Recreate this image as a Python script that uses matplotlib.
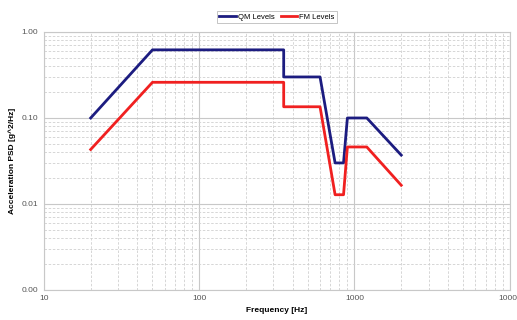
import matplotlib
matplotlib.use("Agg")
import matplotlib.pyplot as plt
from matplotlib.ticker import LogLocator, FuncFormatter, NullFormatter

plt.rcParams["font.family"] = ["Liberation Sans", "DejaVu Sans"]

# PSD breakpoints
freq = [20, 50, 350, 350, 600, 750, 850, 900, 1200, 2000]
qm_levels = [0.10, 0.62, 0.62, 0.30, 0.30, 0.030, 0.030, 0.10, 0.10, 0.037]
fm_levels = [0.043, 0.26, 0.26, 0.135, 0.135, 0.0128, 0.0128, 0.046, 0.046, 0.0165]

fig = plt.figure(figsize=(5.17, 3.2), dpi=100)
ax = fig.add_axes([0.085, 0.094, 0.901, 0.806])

ax.plot(freq, qm_levels, color="#1c1c80", lw=2.0, label="QM Levels")
ax.plot(freq, fm_levels, color="#f02020", lw=2.0, label="FM Levels")

ax.set_xscale("log")
ax.set_yscale("log")
ax.set_xlim(10, 10000)
ax.set_ylim(0.001, 1)

ax.xaxis.set_major_locator(LogLocator(base=10))
ax.xaxis.set_minor_locator(LogLocator(base=10, subs=range(2, 10)))
ax.yaxis.set_major_locator(LogLocator(base=10))
ax.yaxis.set_minor_locator(LogLocator(base=10, subs=range(2, 10)))
ax.xaxis.set_major_formatter(FuncFormatter(lambda v, p: f"{v:g}"))
ax.yaxis.set_major_formatter(FuncFormatter(lambda v, p: f"{v:.2f}"))
ax.xaxis.set_minor_formatter(NullFormatter())
ax.yaxis.set_minor_formatter(NullFormatter())

ax.grid(True, which="major", color="#c8c8c8", lw=0.8, ls="-")
ax.grid(True, which="minor", color="#d0d0d0", lw=0.6, ls=(0, (3, 2)))
ax.set_axisbelow(True)

for s in ax.spines.values():
    s.set_color("#c8c8c8")
ax.tick_params(which="both", length=0, labelsize=6, colors="#555555", pad=4)

ax.set_xlabel("Frequency [Hz]", fontsize=6, fontweight="bold", labelpad=3)
ax.set_ylabel("Acceleration PSD [g^2/Hz]", fontsize=6, fontweight="bold", labelpad=4)

leg = ax.legend(loc="lower center", bbox_to_anchor=(0.5, 1.02), ncol=2, fontsize=5.5,
                frameon=True, fancybox=False, handlelength=2.2, handletextpad=0.2,
                columnspacing=0.8, borderpad=0.3)
leg.get_frame().set_edgecolor("#aaaaaa")
leg.get_frame().set_linewidth(0.6)

fig.savefig("out.png", dpi=100)
